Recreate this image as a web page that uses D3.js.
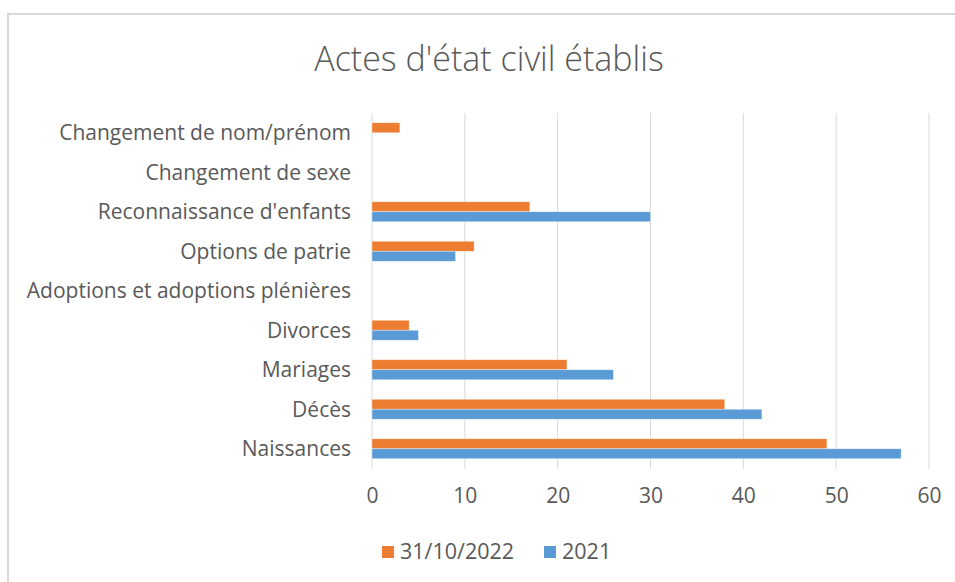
<!DOCTYPE html>
<html>
<head>
<meta charset="utf-8">
<script src="https://cdn.jsdelivr.net/npm/d3@7"></script>
<style>
  body { margin: 0; background: #fff; }
  text { font-family: "Open Sans", Lato, sans-serif; fill: #595959; }
</style>
</head>
<body>
<script>
// donnees (du haut vers le bas)
let categories = ['Changement de nom/prénom', 'Changement de sexe', "Reconnaissance d'enfants",
  'Options de patrie', 'Adoptions et adoptions plénières', 'Divorces', 'Mariages', 'Décès', 'Naissances'];
let seriesNames = ['31/10/2022', '2021'];
let values2022 = [3, 0, 17, 11, 0, 4, 21, 38, 49];
let values2021 = [0, 0, 30, 9, 0, 5, 26, 42, 57];
let xTicks = [0, 10, 20, 30, 40, 50, 60];
let colors = ['#ED7D31', '#5B9BD5'];

let width = 955, height = 582;
let svg = d3.select('body').append('svg')
  .attr('width', width)
  .attr('height', height);

// cadre du graphique (coupe a droite et en bas)
svg.append('rect')
  .attr('x', 8).attr('y', 14)
  .attr('width', 960).attr('height', 600)
  .attr('fill', 'none')
  .attr('stroke', '#d9d9d9')
  .attr('stroke-width', 2);

svg.append('text')
  .attr('x', 489).attr('y', 71)
  .attr('text-anchor', 'middle')
  .attr('font-size', '34px')
  .attr('font-weight', 300)
  .text("Actes d'état civil établis");

let x = d3.scaleLinear().domain([0, 60]).range([372, 929]);
let y = d3.scaleBand().domain(categories).range([113, 468.5])
  .paddingInner(0.494).paddingOuter(0.247);
let ySub = d3.scaleBand().domain(seriesNames).range([0, y.bandwidth()]);

// grille verticale
svg.append('g').selectAll('line')
  .data(xTicks)
  .enter()
  .append('line')
  .attr('x1', d => x(d)).attr('x2', d => x(d))
  .attr('y1', 113).attr('y2', 469)
  .attr('stroke', '#d9d9d9')
  .attr('stroke-width', 1);

let rows = categories.map((c, i) => ({ cat: c, vals: [values2022[i], values2021[i]] }));

let groups = svg.append('g').selectAll('g')
  .data(rows)
  .enter()
  .append('g')
  .attr('transform', d => `translate(0,${y(d.cat)})`);

groups.selectAll('rect')
  .data(d => d.vals.map((v, j) => ({ name: seriesNames[j], v: v, j: j })))
  .enter()
  .append('rect')
  .filter(d => d.v > 0)
  .attr('x', x(0))
  .attr('y', d => ySub(d.name))
  .attr('width', d => x(d.v) - x(0))
  .attr('height', ySub.bandwidth())
  .attr('fill', d => colors[d.j])
  .attr('stroke', '#fff')
  .attr('stroke-opacity', 0.5)
  .attr('stroke-width', 0.7);

// libelles des categories
let axisY = d3.axisLeft(y).tickSize(0).tickPadding(21);
let gy = svg.append('g').attr('transform', `translate(${x(0)},0)`).call(axisY);
gy.select('.domain').remove();
gy.selectAll('text')
  .attr('font-size', '21px')
  .attr('font-family', null)
  .attr('fill', null)
  .attr('dy', '0.35em');

// axe x
let axisX = d3.axisBottom(x).tickValues(xTicks).tickSize(0).tickPadding(19);
let gx = svg.append('g').attr('transform', 'translate(0,469)').call(axisX);
gx.select('.domain').remove();
gx.selectAll('text')
  .attr('font-size', '21px')
  .attr('font-family', null)
  .attr('fill', null);

// legende
let legend = svg.append('g');
let legendX = [382, 544];
seriesNames.forEach((s, i) => {
  legend.append('rect')
    .attr('x', legendX[i]).attr('y', 546)
    .attr('width', 12).attr('height', 12)
    .attr('fill', colors[i]);
  legend.append('text')
    .attr('x', legendX[i] + 18).attr('y', 551)
    .attr('dy', '0.35em')
    .attr('font-size', '21.5px')
    .text(s);
});
</script>
</body>
</html>
